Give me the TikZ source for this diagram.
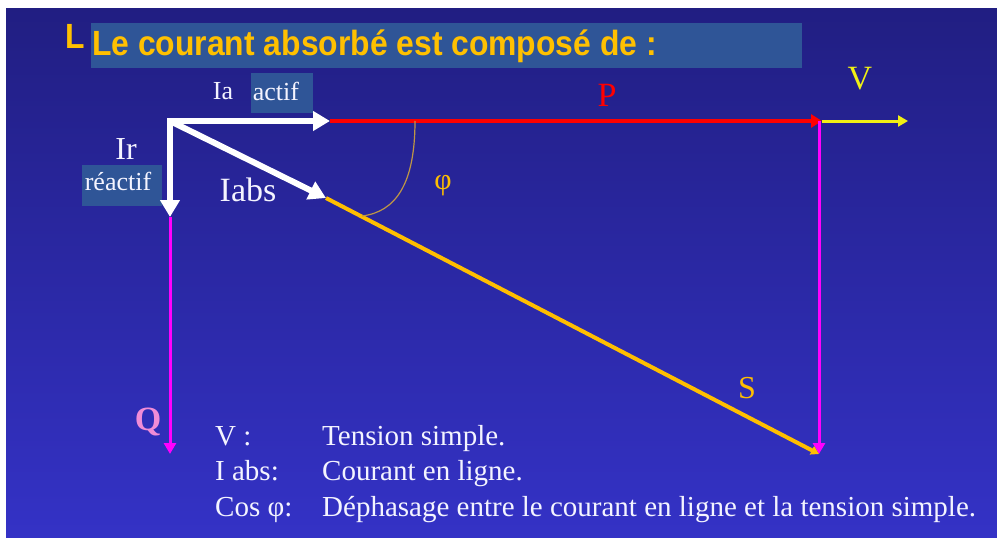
\documentclass[tikz,border=0pt]{standalone}
\usepackage{fontspec}
\usepackage{graphicx}
\setmainfont{Liberation Serif}
\newfontfamily\titlefont{Liberation Sans}
\usetikzlibrary{arrows.meta}
\definecolor{bgtop}{RGB}{33,30,130}
\definecolor{bgbot}{RGB}{52,50,198}
\definecolor{boxblue}{RGB}{47,85,151}
\definecolor{titleyel}{RGB}{255,192,0}
\definecolor{sorange}{RGB}{255,190,0}
\definecolor{vyellow}{RGB}{240,240,20}
\definecolor{qpink}{RGB}{240,140,215}
\definecolor{arccol}{RGB}{190,150,70}
\definecolor{txtwhite}{RGB}{244,244,255}
\definecolor{vmag}{RGB}{255,0,255}
\definecolor{vred}{RGB}{255,0,0}
\tikzset{
  whitevec/.style={draw=white, line width=6pt, line cap=rect,
    -{Triangle[length=17pt,width=19pt]}},
  redvec/.style={draw=vred, line width=4pt, -{Triangle[length=11pt,width=13pt]}},
  yelvec/.style={draw=vyellow, line width=3pt, -{Triangle[length=10pt,width=11pt]}},
  magvec/.style={draw=vmag, line width=3pt, -{Triangle[length=11pt,width=12pt]}},
  svec/.style={draw=sorange, line width=4pt, -{Triangle[length=8pt,width=9pt]}},
  lbl/.style={inner sep=0pt, text=txtwhite},
  tagbox/.style={fill=boxblue, inner sep=0pt},
  leg/.style={anchor=base west, inner sep=0pt, text=txtwhite, font=\fontsize{29}{33}\selectfont}
}
\begin{document}
\begin{tikzpicture}[x=1pt,y=-1pt]
\useasboundingbox (0,0) rectangle (997,538);
\fill[white] (0,0) rectangle (997,538);
\shade[top color=bgtop, bottom color=bgbot] (6,8) rectangle (997,538);
% hidden title behind box
\node[anchor=base west, inner sep=0pt, text=titleyel] (oldtitle) at (65,48)
  {\scalebox{0.91}[1]{\titlefont\bfseries\fontsize{35}{40}\selectfont L}};
% title box
\fill[boxblue] (91,23) rectangle (802,68);
\node[anchor=base west, inner sep=0pt, text=titleyel] (title) at (92,55)
  {\scalebox{0.91}[1]{\titlefont\bfseries\fontsize{35}{40}\selectfont Le courant absorbé est composé de :}};
% label boxes
\fill[tagbox] (251,73) rectangle (313,113);
\fill[tagbox] (82,165) rectangle (162,206);
% coordinates
\coordinate (O) at (170,121);
\coordinate (A) at (330,121);
\coordinate (P) at (822,121);
\coordinate (Ve) at (908,121);
\coordinate (R) at (170,217);
\coordinate (Qe) at (170,454);
\coordinate (B) at (326,198);
\coordinate (C) at (819,454);
\coordinate (Pt) at (819,121);
\coordinate (arcA) at (415,121);
\coordinate (arcB) at (362,216);
% vectors
\draw[yelvec] (P) -- (Ve);
\draw[redvec] (A) -- (P);
\draw[magvec] (Pt) -- (C);
\draw[svec] (B) -- (C);
\draw[magvec] (R) -- (Qe);
\draw[arccol, line width=1.2pt] (arcA) .. controls (415,185) and (395,212) .. (arcB);
\draw[whitevec] (O) -- (A);
\draw[whitevec] (O) -- (R);
\draw[draw=white, line width=6pt, -{Triangle[length=17pt,width=19pt]}] (O) -- (B);
% labels
\node[lbl, font=\fontsize{26}{30}\selectfont] (ia) at (223,91) {Ia};
\node[lbl, font=\fontsize{26}{30}\selectfont] (actif) at (276,91) {actif};
\node[lbl, font=\fontsize{32}{36}\selectfont] (ir) at (126,149) {Ir};
\node[lbl, font=\fontsize{26}{30}\selectfont] (reactif) at (118,181) {réactif};
\node[lbl, font=\fontsize{34}{38}\selectfont] (iabs) at (248,190) {Iabs};
\node[inner sep=0pt, text=vred, font=\fontsize{34}{38}\selectfont] (plbl) at (607,95) {P};
\node[inner sep=0pt, text=vyellow, font=\fontsize{34}{38}\selectfont] (vlbl) at (860,79) {V};
\node[inner sep=0pt, text=sorange, font=\fontsize{30}{34}\selectfont] (philbl) at (443,186) {φ};
\node[inner sep=0pt, text=sorange, font=\fontsize{32}{36}\selectfont] (slbl) at (747,388) {S};
\node[inner sep=0pt, text=qpink, font=\bfseries\fontsize{34}{38}\selectfont] (qlbl) at (148,422) {Q};
% legend
\node[leg] (l1a) at (215,445) {V :};
\node[leg] (l1b) at (322,445) {Tension simple.};
\node[leg] (l2a) at (215,480) {I abs:};
\node[leg] (l2b) at (322,480) {Courant en ligne.};
\node[leg] (l3a) at (215,516) {Cos φ:};
\node[leg] (l3b) at (322,516) {Déphasage entre le courant en ligne et la tension simple.};
\end{tikzpicture}
\end{document}
